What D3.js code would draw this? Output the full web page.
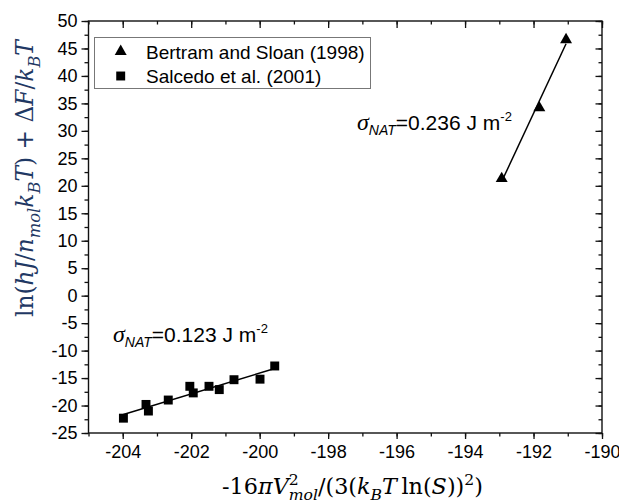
<!DOCTYPE html>
<html><head><meta charset="utf-8">
<script src="https://cdn.jsdelivr.net/npm/d3@7"></script>
<style>body{margin:0;background:#fff} text{white-space:pre}</style>
</head><body><svg id="c" width="619" height="502"></svg>
<script>
// ---- data ----
const bertramX = [-192.93, -191.83, -191.05];
const bertramY = [21.3, 34.2, 46.6];
const salcedoX = [-203.98, -203.32, -203.25, -202.67, -202.04, -201.94, -201.48, -201.18, -200.75, -199.99, -199.56];
const salcedoY = [-22.3, -19.8, -21.0, -19.0, -16.5, -17.7, -16.5, -17.1, -15.3, -15.2, -12.8];
const xTickValues = [-204, -202, -200, -198, -196, -194, -192, -190];
const yTickValues = [-25, -20, -15, -10, -5, 0, 5, 10, 15, 20, 25, 30, 35, 40, 45, 50];
const seriesNames = ["Bertram and Sloan (1998)", "Salcedo et al. (2001)"];
const sigmaValues = ["0.236", "0.123"];

// ---- layout ----
const L = 88.5, R = 602, T = 21, B = 433;
const svg = d3.select("#c");
const x = d3.scaleLinear().domain([-205, -190]).range([L, R]);
const y = d3.scaleLinear().domain([-25, 50]).range([B, T]);
const sans = "'Liberation Sans', Arial, sans-serif";
const serif = "'DejaVu Serif', 'Liberation Serif', serif";

const xMinor = d3.range(-205, -189, 1);
const yMinor = d3.range(-25, 50.1, 2.5);
const axisColor = "#111";

function styleAxis(g) {
  g.select(".domain").remove();
  g.selectAll("line").attr("stroke", axisColor).attr("stroke-width", 1.3);
  g.selectAll("text").attr("font-family", sans).attr("font-size", 18).attr("fill", "#000");
}

// minor ticks
svg.append("g").attr("transform", `translate(0,${B})`)
  .call(d3.axisBottom(x).tickValues(xMinor).tickSize(3.5).tickFormat("")).call(styleAxis);
svg.append("g").attr("transform", `translate(0,${T})`)
  .call(d3.axisBottom(x).tickValues(xMinor).tickSize(3.5).tickFormat("")).call(styleAxis);
svg.append("g").attr("transform", `translate(${L},0)`)
  .call(d3.axisLeft(y).tickValues(yMinor).tickSize(4).tickFormat("")).call(styleAxis);
svg.append("g").attr("transform", `translate(${R},0)`)
  .call(d3.axisLeft(y).tickValues(yMinor).tickSize(3.5).tickFormat("")).call(styleAxis);

// major ticks
svg.append("g").attr("transform", `translate(0,${B})`)
  .call(d3.axisBottom(x).tickValues(xTickValues).tickSize(6).tickPadding(6).tickFormat(d => String(d)))
  .call(styleAxis);
svg.append("g").attr("transform", `translate(0,${T})`)
  .call(d3.axisBottom(x).tickValues(xTickValues).tickSize(7).tickFormat("")).call(styleAxis);
svg.append("g").attr("transform", `translate(${L},0)`)
  .call(d3.axisLeft(y).tickValues(yTickValues).tickSize(7).tickPadding(4).tickFormat(d => String(d)))
  .call(styleAxis);
svg.append("g").attr("transform", `translate(${R},0)`)
  .call(d3.axisLeft(y).tickValues(yTickValues).tickSize(6.5).tickFormat("")).call(styleAxis);

// frame
svg.append("rect").attr("x", L).attr("y", T).attr("width", R - L).attr("height", B - T)
  .attr("fill", "none").attr("stroke", axisColor).attr("stroke-width", 1.4);

// fit lines
function fit(xs, ys) {
  const mx = d3.mean(xs), my = d3.mean(ys);
  const sxy = d3.sum(xs, (v, i) => (v - mx) * (ys[i] - my));
  const sxx = d3.sum(xs, v => (v - mx) * (v - mx));
  const b = sxy / sxx, a = my - b * mx;
  const x0 = d3.min(xs), x1 = d3.max(xs);
  return [[x0, a + b * x0], [x1, a + b * x1]];
}
const line = d3.line().x(d => x(d[0])).y(d => y(d[1]));
[[bertramX, bertramY], [salcedoX, salcedoY]].forEach(([xs, ys]) => {
  svg.append("path").attr("d", line(fit(xs, ys))).attr("stroke", "#000")
    .attr("stroke-width", 1.5).attr("fill", "none");
});

// markers
const tri = d3.symbol().type(d3.symbolTriangle).size(62);
const sq = d3.symbol().type(d3.symbolSquare).size(80);
svg.append("g").selectAll("path").data(bertramX.map((v, i) => [v, bertramY[i]])).join("path")
  .attr("d", tri).attr("transform", d => `translate(${x(d[0])},${y(d[1])})`).attr("fill", "#000");
svg.append("g").selectAll("path").data(salcedoX.map((v, i) => [v, salcedoY[i]])).join("path")
  .attr("d", sq).attr("transform", d => `translate(${x(d[0])},${y(d[1])})`).attr("fill", "#000");

// legend
const lg = svg.append("g");
lg.append("rect").attr("x", 94.5).attr("y", 37.5).attr("width", 276).attr("height", 51)
  .attr("fill", "#fff").attr("stroke", "#777").attr("stroke-width", 1);
lg.append("path").attr("d", tri).attr("transform", "translate(120.7,51.5)").attr("fill", "#000");
lg.append("path").attr("d", sq).attr("transform", "translate(120.7,76)").attr("fill", "#000");
seriesNames.forEach((n, i) => {
  lg.append("text").attr("x", 146).attr("y", 58.5 + i * 24.5).text(n)
    .attr("font-family", sans).attr("font-size", 19).attr("fill", "#000");
});

// sigma annotations
const sigmaPos = [[357, 130], [113, 342]];
sigmaValues.forEach((v, i) => {
  const t = svg.append("text").attr("x", sigmaPos[i][0]).attr("y", sigmaPos[i][1])
    .attr("font-family", sans).attr("font-size", 21).attr("fill", "#000");
  t.append("tspan").text("σ").attr("font-style", "italic").attr("font-family", "'Liberation Serif', serif").attr("font-size", 24);
  t.append("tspan").text("NAT").attr("font-style", "italic").attr("font-size", 14).attr("dy", 5);
  t.append("tspan").text("=" + v + " J m").attr("dy", -5);
  t.append("tspan").text("-2").attr("font-size", 13).attr("dy", -9);
});

// math label layout helper
function mathLabel(g, pieces, size, color) {
  let xpos = 0, lastStart = 0;
  pieces.forEach(p => {
    const fs = size * (p.s || 1);
    const start = p.stack ? lastStart : xpos;
    const t = g.append("text").attr("x", start).attr("y", (p.dy || 0) * size)
      .attr("font-family", serif).attr("font-size", fs).attr("fill", color)
      .attr("font-style", p.i ? "italic" : "normal").text(p.t);
    const w = t.node().getComputedTextLength();
    if (p.stack) xpos = Math.max(xpos, start + w);
    else { lastStart = start; xpos = start + w; }
  });
  return xpos;
}

// x-axis title
const xPieces = [
  {t: "-16"}, {t: "π", i: 1}, {t: "V", i: 1},
  {t: "2", s: 0.7, dy: -0.42}, {t: "mol", i: 1, s: 0.7, dy: 0.28, stack: 1},
  {t: "/(3("}, {t: "k", i: 1}, {t: "B", i: 1, s: 0.7, dy: 0.28}, {t: "T", i: 1},
  {t: "\u2009ln("}, {t: "S", i: 1}, {t: "))"}, {t: "2", s: 0.7, dy: -0.42}, {t: ")"}
];
function placeLabel(pieces, target, cx, cy, rotate, color) {
  const tmp = svg.append("g");
  const w0 = mathLabel(tmp, pieces, 20, color);
  tmp.remove();
  const size = 20 * target / w0;
  const g = svg.append("g");
  const w = mathLabel(g, pieces, size, color);
  g.attr("transform", `translate(${cx},${cy}) rotate(${rotate}) translate(${-w / 2},0)`);
}
placeLabel(xPieces, 261, 352.5, 494, 0, "#000");

const yPieces = [
  {t: "ln("}, {t: "hJ", i: 1}, {t: "/"}, {t: "n", i: 1}, {t: "mol", i: 1, s: 0.7, dy: 0.28},
  {t: "k", i: 1}, {t: "B", i: 1, s: 0.7, dy: 0.28}, {t: "T", i: 1},
  {t: ") + Δ"}, {t: "F", i: 1}, {t: "/"}, {t: "k", i: 1}, {t: "B", i: 1, s: 0.7, dy: 0.28}, {t: "T", i: 1}
];
placeLabel(yPieces, 277, 33, 178.5, -90, "#1f3864");
</script></body></html>
